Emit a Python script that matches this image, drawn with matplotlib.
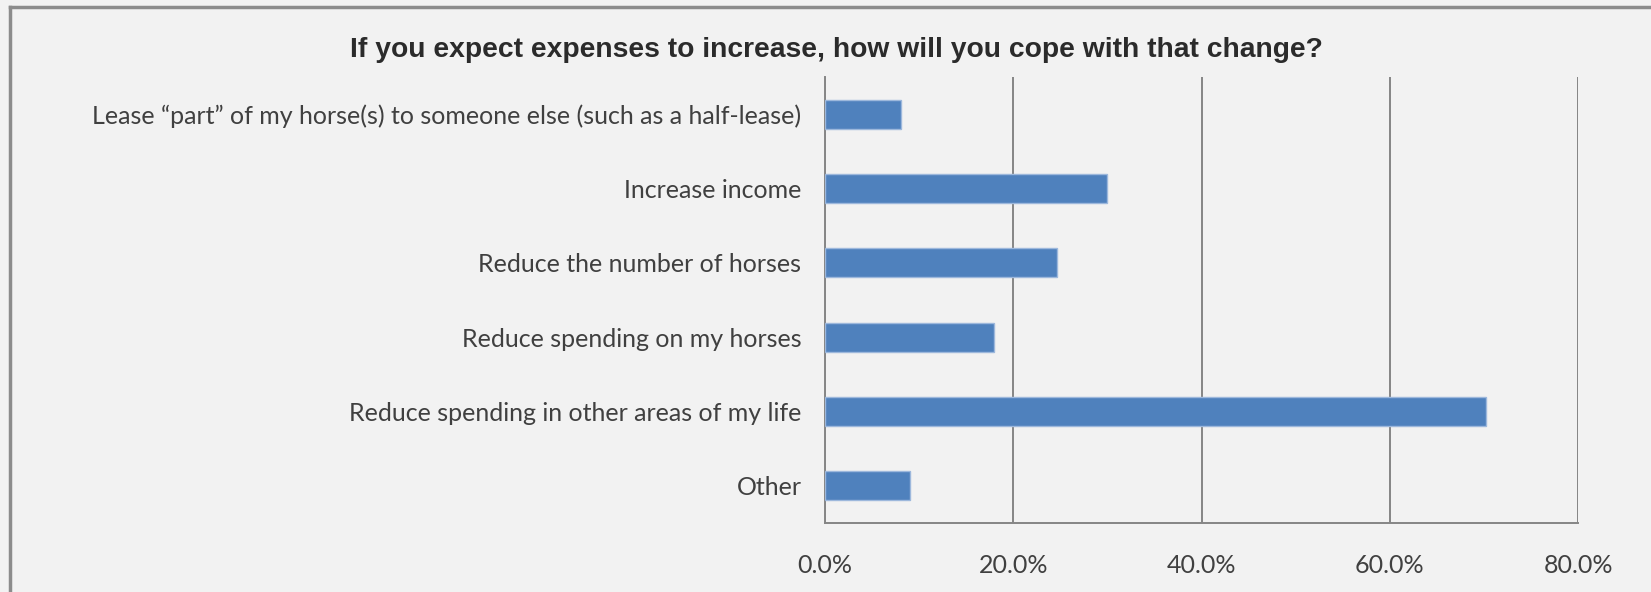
import matplotlib
matplotlib.use("Agg")
import matplotlib.pyplot as plt
from matplotlib.lines import Line2D
from matplotlib.ticker import FuncFormatter

# survey answers, top to bottom as shown
answers = [
    "Lease \u201cpart\u201d of my horse(s) to someone else (such as a half-lease)",
    "Increase income",
    "Reduce the number of horses",
    "Reduce spending on my horses",
    "Reduce spending in other areas of my life",
    "Other",
]
shares = [8.1, 30.0, 24.7, 18.0, 70.2, 9.0]  # percent
xticks = [0, 20, 40, 60, 80]

title = "If you expect expenses to increase, how will you cope with that change?"

bg = "#F2F2F2"
grid_col = "#868686"

fig = plt.figure(figsize=(16.51, 5.92), dpi=100, facecolor=bg)
ax = fig.add_axes([825 / 1651, 1 - 523 / 592, (1578 - 825) / 1651, (523 - 77) / 592])
ax.set_facecolor(bg)

ypos = list(range(len(answers)))[::-1]
ax.barh(ypos, shares, height=0.39, color="#4F81BD", edgecolor="#9DB8DC", linewidth=1.0, zorder=3)

ax.set_xlim(0, 80)
ax.set_ylim(-0.5, len(answers) - 0.5)
ax.set_xticks(xticks)
ax.xaxis.set_major_formatter(FuncFormatter(lambda v, p: "%.1f%%" % v))
ax.set_yticks(ypos)
ax.set_yticklabels(answers)
ax.grid(axis="x", color=grid_col, linewidth=1.4, zorder=0)

for s in ["top", "right"]:
    ax.spines[s].set_visible(False)
for s in ["left", "bottom"]:
    ax.spines[s].set_color(grid_col)
    ax.spines[s].set_linewidth(1.4)

ax.tick_params(axis="both", length=0, colors="#404040", labelsize=18)
ax.tick_params(axis="y", pad=17)
ax.tick_params(axis="x", pad=22)
for lab in ax.get_xticklabels() + ax.get_yticklabels():
    lab.set_family("Lato")

fig.text(836 / 1651, 1 - 50 / 592, title, ha="center", va="center",
         fontsize=20.3, fontweight="bold", family="Liberation Sans", color="#2B2B2B")

# chart frame (only top and left edges are visible in the crop)
fig.add_artist(Line2D([10 / 1651, 1], [1 - 7 / 592] * 2, color="#8C8C8C", linewidth=2.5))
fig.add_artist(Line2D([10 / 1651] * 2, [0, 1 - 7 / 592], color="#8C8C8C", linewidth=2.5))

fig.savefig("out.png", dpi=100, facecolor=bg)
